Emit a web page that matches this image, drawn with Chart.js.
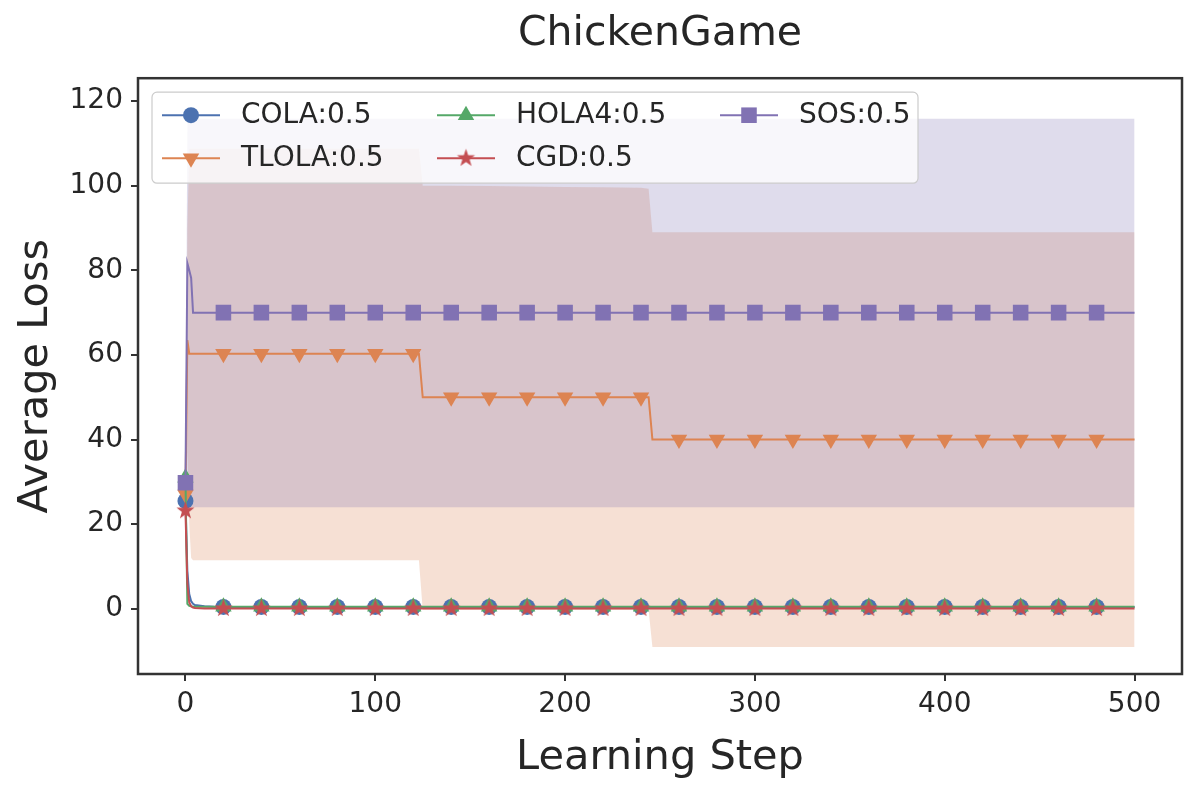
<!DOCTYPE html>
<html>
<head>
<meta charset="utf-8">
<script src="https://cdn.jsdelivr.net/npm/chart.js@4.4.1/dist/chart.umd.min.js"></script>
<style>
  html, body { margin: 0; padding: 0; background: #fff; }
  #wrap { width: 1200px; height: 800px; }
</style>
</head>
<body>
<div id="wrap"><canvas id="chart" width="1200" height="800"></canvas></div>
<script>
var steps = [0, 1, 2, 3, 4, 5, 10, 15, 20, 40, 60, 80, 100, 120, 123, 125, 140, 160, 180, 200, 220, 240, 244, 246,
  260, 280, 300, 320, 340, 360, 380, 400, 420, 440, 460, 480, 500];

var seriesNames = ['COLA:0.5', 'TLOLA:0.5', 'HOLA4:0.5', 'CGD:0.5', 'SOS:0.5'];

var colaLoss = [25.5, 9, 3.5, 1.8, 1.2, 0.9, 0.6, 0.5, 0.45, 0.45, 0.45, 0.45, 0.45, 0.45, 0.45, 0.45, 0.45, 0.45, 0.45, 0.45, 0.45, 0.45, 0.45, 0.45,
  0.45, 0.45, 0.45, 0.45, 0.45, 0.45, 0.45, 0.45, 0.45, 0.45, 0.45, 0.45, 0.45];
var tlolaLoss = [27, 63.5, 60.3, 60.3, 60.3, 60.3, 60.3, 60.3, 60.3, 60.3, 60.3, 60.3, 60.3, 60.3, 60.3, 50, 50, 50, 50, 50, 50, 50, 50, 40,
  40, 40, 40, 40, 40, 40, 40, 40, 40, 40, 40, 40, 40];
var hola4Loss = [31, 1.2, 0.7, 0.6, 0.5, 0.5, 0.5, 0.5, 0.5, 0.5, 0.5, 0.5, 0.5, 0.5, 0.5, 0.5, 0.5, 0.5, 0.5, 0.5, 0.5, 0.5, 0.5, 0.5,
  0.5, 0.5, 0.5, 0.5, 0.5, 0.5, 0.5, 0.5, 0.5, 0.5, 0.5, 0.5, 0.5];
var cgdLoss = [23.2, 6, 1.5, 0.6, 0.3, 0.2, 0.1, 0.1, 0.1, 0.1, 0.1, 0.1, 0.1, 0.1, 0.1, 0.1, 0.1, 0.1, 0.1, 0.1, 0.1, 0.1, 0.1, 0.1,
  0.1, 0.1, 0.1, 0.1, 0.1, 0.1, 0.1, 0.1, 0.1, 0.1, 0.1, 0.1, 0.1];
var sosLoss = [29.8, 81.7, 80, 78.2, 70, 70, 70, 70, 70, 70, 70, 70, 70, 70, 70, 70, 70, 70, 70, 70, 70, 70, 70, 70,
  70, 70, 70, 70, 70, 70, 70, 70, 70, 70, 70, 70, 70];

// shaded spread (upper / lower edges)
var tlolaUpper = [27, 90, 108.7, 108.7, 108.7, 108.7, 108.7, 108.7, 108.7, 108.7, 108.7, 108.7, 108.7, 108.7, 108.7, 100, 100, 99.9, 99.8, 99.7, 99.6, 99.5, 99.3, 89,
  89, 89, 89, 89, 89, 89, 89, 89, 89, 89, 89, 89, 89];
var tlolaLower = [27, 37, 20, 12, 11.5, 11.5, 11.5, 11.5, 11.5, 11.5, 11.5, 11.5, 11.5, 11.5, 11.5, -0.3, -0.3, -0.3, -0.3, -0.3, -0.3, -0.3, -0.3, -9,
  -9, -9, -9, -9, -9, -9, -9, -9, -9, -9, -9, -9, -9];
var sosUpper = [29.8, 115.8, 115.8, 115.8, 115.8, 115.8, 115.8, 115.8, 115.8, 115.8, 115.8, 115.8, 115.8, 115.8, 115.8, 115.8, 115.8, 115.8, 115.8, 115.8, 115.8, 115.8, 115.8, 115.8,
  115.8, 115.8, 115.8, 115.8, 115.8, 115.8, 115.8, 115.8, 115.8, 115.8, 115.8, 115.8, 115.8];
var sosLower = [29.8, 24, 24, 24, 24, 24, 24, 24, 24, 24, 24, 24, 24, 24, 24, 24, 24, 24, 24, 24, 24, 24, 24, 24,
  24, 24, 24, 24, 24, 24, 24, 24, 24, 24, 24, 24, 24];

var xTicks = [0, 100, 200, 300, 400, 500];
var yTicks = [0, 20, 40, 60, 80, 100, 120];

var BLUE = '#4C72B0', ORANGE = '#DD8452', GREEN = '#55A868', RED = '#C44E52', PURPLE = '#8172B3';
var TEXT = '#262626', FRAME = '#333333';
var FONT = "'DejaVu Sans', sans-serif";

function xy(vals) {
  return steps.map(function (s, i) { return { x: s, y: vals[i] }; });
}

// filled five point star, chart.js only has an outline one
function makeStar(color, R) {
  var c = document.createElement('canvas');
  c.width = c.height = Math.ceil(R * 2 + 2);
  var g = c.getContext('2d');
  var cx = c.width / 2, cy = c.height / 2, r = R * 0.4;
  g.beginPath();
  for (var i = 0; i < 10; i++) {
    var a = -Math.PI / 2 + i * Math.PI / 5;
    var rr = i % 2 === 0 ? R : r;
    g.lineTo(cx + rr * Math.cos(a), cy + rr * Math.sin(a));
  }
  g.closePath();
  g.fillStyle = color;
  g.fill();
  return c;
}
var star = makeStar(RED, 9.5);

function markerRadius(r) {
  return function (ctx) {
    var p = ctx.raw;
    return (p && p.x % 20 === 0 && p.x < 500) ? r : 0;
  };
}

function lineSet(label, vals, color, style, r, rot, order) {
  return {
    label: label, data: xy(vals), borderColor: color, backgroundColor: color,
    borderWidth: 2, pointStyle: style, pointRotation: rot, pointRadius: markerRadius(r),
    pointBorderWidth: 0, pointBackgroundColor: color, fill: false, tension: 0, order: order
  };
}

function bandSet(vals, fill, color, order) {
  return {
    label: '', data: xy(vals), borderWidth: 0, pointRadius: 0, backgroundColor: color,
    borderColor: 'rgba(0,0,0,0)', fill: fill, tension: 0, order: order
  };
}

var datasets = [
  bandSet(tlolaUpper, '+1', 'rgba(221,132,82,0.25)', 11),
  bandSet(tlolaLower, false, 'rgba(221,132,82,0.25)', 11),
  bandSet(sosUpper, '+1', 'rgba(129,114,179,0.25)', 10),
  bandSet(sosLower, false, 'rgba(129,114,179,0.25)', 10),
  lineSet(seriesNames[0], colaLoss, BLUE, 'circle', 8, 0, 5),
  lineSet(seriesNames[1], tlolaLoss, ORANGE, 'triangle', 9.5, 180, 4),
  lineSet(seriesNames[2], hola4Loss, GREEN, 'triangle', 9.5, 0, 3),
  lineSet(seriesNames[3], cgdLoss, RED, star, 9.5, 0, 2),
  lineSet(seriesNames[4], sosLoss, PURPLE, 'rect', 11, 0, 1)
];

// legend entries, laid out in matplotlib column order
var legendItems = [
  { text: seriesNames[0], color: BLUE, style: 'circle', r: 8, rot: 0, col: 0, row: 0 },
  { text: seriesNames[1], color: ORANGE, style: 'triangle', r: 9.5, rot: 180, col: 0, row: 1 },
  { text: seriesNames[2], color: GREEN, style: 'triangle', r: 9.5, rot: 0, col: 1, row: 0 },
  { text: seriesNames[3], color: RED, style: star, r: 9.5, rot: 0, col: 1, row: 1 },
  { text: seriesNames[4], color: PURPLE, style: 'rect', r: 11, rot: 0, col: 2, row: 0 }
];

var framePlugin = {
  id: 'frameAndLegend',
  afterDraw: function (chart) {
    var ctx = chart.ctx, a = chart.chartArea;
    ctx.save();
    // legend box
    var bx = a.left + 14, by = a.top + 14, bw = 766, bh = 91;
    ctx.beginPath();
    ctx.roundRect(bx, by, bw, bh, 5);
    ctx.fillStyle = 'rgba(255,255,255,0.8)';
    ctx.fill();
    ctx.strokeStyle = '#cccccc';
    ctx.lineWidth = 1.2;
    ctx.stroke();
    var colX = [bx + 10, bx + 285, bx + 568];
    var rowY = [by + 23, by + 66];
    ctx.font = '28px ' + FONT;
    ctx.textBaseline = 'middle';
    legendItems.forEach(function (it) {
      var x0 = colX[it.col], y0 = rowY[it.row];
      ctx.strokeStyle = it.color;
      ctx.lineWidth = 2;
      ctx.beginPath();
      ctx.moveTo(x0, y0);
      ctx.lineTo(x0 + 58, y0);
      ctx.stroke();
      ctx.fillStyle = it.color;
      Chart.helpers.drawPoint(ctx, { pointStyle: it.style, radius: it.r, rotation: it.rot, borderWidth: 0 }, x0 + 29, y0);
      ctx.fillStyle = TEXT;
      ctx.fillText(it.text, x0 + 79, y0 + 1);
    });
    // axes frame
    ctx.strokeStyle = FRAME;
    ctx.lineWidth = 2.5;
    ctx.strokeRect(a.left, a.top, a.right - a.left, a.bottom - a.top);
    ctx.restore();
  }
};

new Chart(document.getElementById('chart'), {
  type: 'line',
  data: { datasets: datasets },
  plugins: [framePlugin],
  options: {
    responsive: false,
    animation: false,
    devicePixelRatio: 1,
    layout: { padding: { left: 0, right: 18, top: 0, bottom: 0 } },
    plugins: {
      legend: { display: false },
      tooltip: { enabled: false },
      title: {
        display: true, text: 'ChickenGame', color: TEXT, fullSize: false,
        font: { family: FONT, size: 41, weight: 'normal', lineHeight: 1.2 },
        padding: { top: 10, bottom: 19 }
      }
    },
    scales: {
      x: {
        type: 'linear', min: -25, max: 525,
        afterBuildTicks: function (s) { s.ticks = xTicks.map(function (v) { return { value: v }; }); },
        afterFit: function (s) { s.height = 126; },
        grid: { drawOnChartArea: false, drawTicks: true, tickLength: 7, color: FRAME, lineWidth: 2 },
        border: { display: false },
        ticks: { color: TEXT, padding: 7, maxRotation: 0, font: { family: FONT, size: 28 } },
        title: { display: true, text: 'Learning Step', color: TEXT, padding: { top: 0, bottom: 17 },
          font: { family: FONT, size: 41.5, lineHeight: 1.2 } }
      },
      y: {
        type: 'linear', min: -15.4, max: 125.4,
        afterBuildTicks: function (s) { s.ticks = yTicks.map(function (v) { return { value: v }; }); },
        afterFit: function (s) { s.width = 138; },
        grid: { drawOnChartArea: false, drawTicks: true, tickLength: 7, color: FRAME, lineWidth: 2 },
        border: { display: false },
        ticks: { color: TEXT, padding: 8, font: { family: FONT, size: 28 } },
        title: { display: true, text: 'Average Loss', color: TEXT, padding: { top: 11, bottom: 0 },
          font: { family: FONT, size: 41.5, lineHeight: 1.2 } }
      }
    }
  }
});
</script>
</body>
</html>
